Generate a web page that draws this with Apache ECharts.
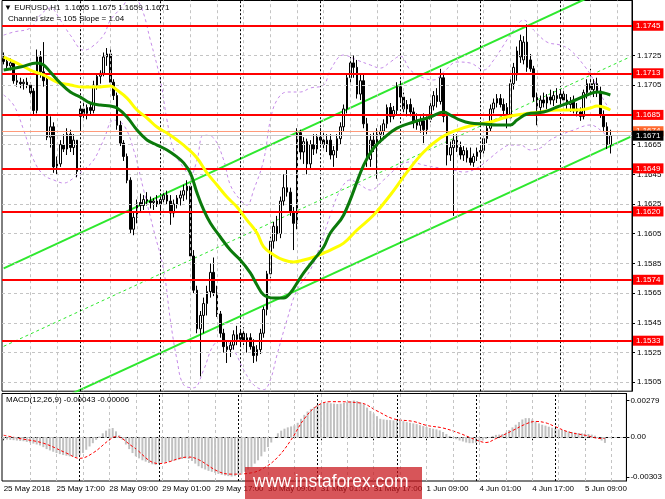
<!DOCTYPE html>
<html><head><meta charset="utf-8">
<script src="https://cdn.jsdelivr.net/npm/echarts@6.0.0/dist/echarts.min.js"></script>
<style>html,body{margin:0;padding:0;background:#fff}#c{width:665px;height:499px}</style>
</head><body><div id="c"></div>
<script>
const symbolName = 'EURUSD,H1';
const nSlots = 189;
const labelStep = 16;
const gridStep = 8;
const xTickLabels = ['25 May 2018','25 May 17:00','28 May 09:00','29 May 01:00','29 May 17:00','30 May 09:00','31 May 01:00','31 May 17:00','1 Jun 09:00','4 Jun 01:00','4 Jun 17:00','5 Jun 09:00'];
const daySeparators = [23,47,71,95,119,143,167];
const priceTicks = [1.1505,1.1525,1.1545,1.1565,1.1585,1.1605,1.1625,1.1645,1.1665,1.1685,1.1705,1.1725];
const redLevels = [1.1745,1.1713,1.1685,1.1649,1.1620,1.1574,1.1533];
const askPrice = 1.1674;
const bidPrice = 1.1671;
const channelText = 'Channel size = 105 Slope = 1.04';
// [open, high, low, close]
const candles = [
[1.1723,1.1727,1.1719,1.1721],[1.1721,1.1724,1.1716,1.1718],[1.1718,1.1723,1.1715,1.1720],[1.1720,1.1721,1.1706,1.1708],
[1.1708,1.1712,1.1704,1.1707],[1.1707,1.1710,1.1703,1.1706],[1.1706,1.1709,1.1702,1.1707],[1.1707,1.1710,1.1703,1.1705],
[1.1705,1.1707,1.1698,1.1700],[1.1701,1.1703,1.1685,1.1688],[1.1688,1.1729,1.1686,1.1724],[1.1724,1.1728,1.1710,1.1714],
[1.1714,1.1734,1.1704,1.1708],[1.1709,1.1711,1.1668,1.1670],[1.1670,1.1684,1.1663,1.1677],[1.1677,1.1680,1.1646,1.1650],
[1.1650,1.1657,1.1645,1.1652],[1.1652,1.1668,1.1650,1.1665],[1.1665,1.1672,1.1660,1.1662],[1.1662,1.1676,1.1658,1.1672],
[1.1672,1.1675,1.1660,1.1663],[1.1663,1.1672,1.1658,1.1668],[1.1668,1.1668,1.1643,1.1647],[1.1684,1.1691,1.1675,1.1689],
[1.1689,1.1693,1.1683,1.1686],[1.1686,1.1692,1.1682,1.1690],[1.1690,1.1693,1.1685,1.1688],[1.1688,1.1708,1.1686,1.1705],
[1.1705,1.1713,1.1702,1.1711],[1.1711,1.1715,1.1706,1.1713],[1.1713,1.1727,1.1711,1.1724],[1.1724,1.1730,1.1718,1.1726],
[1.1726,1.1729,1.1704,1.1707],[1.1707,1.1709,1.1695,1.1698],[1.1698,1.1700,1.1675,1.1678],[1.1678,1.1681,1.1664,1.1666],
[1.1666,1.1668,1.1654,1.1657],[1.1657,1.1659,1.1639,1.1641],[1.1641,1.1643,1.1605,1.1608],[1.1608,1.1620,1.1604,1.1616],
[1.1616,1.1628,1.1612,1.1626],[1.1626,1.1632,1.1620,1.1624],[1.1624,1.1631,1.1621,1.1628],[1.1628,1.1633,1.1624,1.1627],
[1.1627,1.1630,1.1622,1.1626],[1.1626,1.1629,1.1621,1.1627],[1.1627,1.1631,1.1623,1.1625],[1.1625,1.1630,1.1620,1.1628],
[1.1628,1.1634,1.1625,1.1631],[1.1631,1.1634,1.1625,1.1627],[1.1627,1.1631,1.1611,1.1619],[1.1619,1.1628,1.1616,1.1625],
[1.1625,1.1631,1.1622,1.1629],[1.1629,1.1634,1.1624,1.1631],[1.1631,1.1638,1.1627,1.1634],[1.1634,1.1641,1.1628,1.1637],
[1.1637,1.1639,1.1588,1.1590],[1.1590,1.1594,1.1565,1.1567],[1.1567,1.1570,1.1538,1.1541],[1.1541,1.1553,1.1509,1.1550],
[1.1550,1.1562,1.1538,1.1558],[1.1558,1.1570,1.1550,1.1566],[1.1566,1.1585,1.1562,1.1579],[1.1579,1.1589,1.1563,1.1565],
[1.1565,1.1570,1.1549,1.1551],[1.1551,1.1553,1.1535,1.1538],[1.1538,1.1541,1.1525,1.1529],[1.1529,1.1533,1.1518,1.1527],
[1.1527,1.1533,1.1522,1.1530],[1.1530,1.1540,1.1527,1.1537],[1.1537,1.1543,1.1530,1.1534],[1.1534,1.1541,1.1529,1.1538],
[1.1538,1.1542,1.1530,1.1533],[1.1533,1.1538,1.1525,1.1535],[1.1535,1.1538,1.1527,1.1529],[1.1529,1.1534,1.1518,1.1523],
[1.1523,1.1530,1.1519,1.1527],[1.1527,1.1541,1.1524,1.1538],[1.1538,1.1556,1.1535,1.1554],[1.1554,1.1580,1.1550,1.1578],
[1.1578,1.1603,1.1575,1.1600],[1.1600,1.1613,1.1595,1.1610],[1.1610,1.1617,1.1600,1.1605],[1.1605,1.1630,1.1602,1.1627],
[1.1627,1.1645,1.1624,1.1636],[1.1636,1.1648,1.1630,1.1633],[1.1633,1.1636,1.1617,1.1620],[1.1620,1.1623,1.1594,1.1612],
[1.1612,1.1676,1.1608,1.1673],[1.1673,1.1675,1.1655,1.1660],[1.1660,1.1670,1.1652,1.1667],[1.1667,1.1669,1.1645,1.1652],
[1.1652,1.1668,1.1649,1.1665],[1.1665,1.1672,1.1658,1.1662],[1.1662,1.1672,1.1659,1.1670],[1.1670,1.1676,1.1663,1.1668],
[1.1668,1.1674,1.1662,1.1665],[1.1665,1.1672,1.1660,1.1668],[1.1668,1.1672,1.1655,1.1658],[1.1658,1.1664,1.1650,1.1661],
[1.1661,1.1672,1.1656,1.1669],[1.1669,1.1680,1.1665,1.1677],[1.1677,1.1692,1.1674,1.1689],[1.1689,1.1713,1.1686,1.1710],
[1.1710,1.1724,1.1705,1.1720],[1.1720,1.1725,1.1710,1.1717],[1.1717,1.1722,1.1696,1.1699],[1.1699,1.1712,1.1695,1.1708],
[1.1708,1.1713,1.1676,1.1679],[1.1679,1.1683,1.1650,1.1655],[1.1655,1.1672,1.1650,1.1668],[1.1668,1.1673,1.1660,1.1664],
[1.1664,1.1676,1.1642,1.1672],[1.1672,1.1678,1.1666,1.1674],[1.1674,1.1682,1.1668,1.1679],[1.1679,1.1692,1.1676,1.1690],
[1.1690,1.1693,1.1680,1.1684],[1.1684,1.1691,1.1682,1.1688],[1.1688,1.1707,1.1685,1.1704],[1.1704,1.1708,1.1693,1.1697],
[1.1697,1.1700,1.1685,1.1689],[1.1689,1.1695,1.1684,1.1692],[1.1692,1.1696,1.1684,1.1687],[1.1687,1.1690,1.1676,1.1680],
[1.1680,1.1686,1.1675,1.1678],[1.1678,1.1684,1.1673,1.1681],[1.1681,1.1686,1.1666,1.1675],[1.1675,1.1684,1.1672,1.1682],
[1.1682,1.1694,1.1680,1.1691],[1.1691,1.1701,1.1688,1.1698],[1.1698,1.1703,1.1690,1.1694],[1.1694,1.1716,1.1692,1.1710],
[1.1710,1.1713,1.1680,1.1684],[1.1684,1.1686,1.1651,1.1658],[1.1658,1.1667,1.1654,1.1663],[1.1663,1.1672,1.1617,1.1668],
[1.1668,1.1672,1.1660,1.1663],[1.1663,1.1667,1.1655,1.1658],[1.1658,1.1664,1.1654,1.1661],[1.1661,1.1663,1.1653,1.1656],
[1.1656,1.1663,1.1651,1.1653],[1.1653,1.1659,1.1650,1.1657],[1.1657,1.1663,1.1654,1.1660],[1.1660,1.1664,1.1656,1.1661],
[1.1661,1.1671,1.1659,1.1669],[1.1669,1.1678,1.1666,1.1676],[1.1676,1.1692,1.1674,1.1689],[1.1689,1.1696,1.1686,1.1693],
[1.1693,1.1699,1.1690,1.1696],[1.1696,1.1699,1.1690,1.1692],[1.1692,1.1696,1.1685,1.1688],[1.1690,1.1693,1.1676,1.1683],
[1.1683,1.1709,1.1681,1.1706],[1.1706,1.1720,1.1702,1.1717],[1.1712,1.1731,1.1708,1.1728],[1.1724,1.1739,1.1720,1.1735],
[1.1722,1.1738,1.1719,1.1734],[1.1734,1.1746,1.1714,1.1717],[1.1722,1.1726,1.1714,1.1716],[1.1716,1.1718,1.1694,1.1697],
[1.1697,1.1700,1.1678,1.1690],[1.1690,1.1698,1.1686,1.1695],[1.1695,1.1700,1.1690,1.1693],[1.1693,1.1699,1.1689,1.1697],
[1.1697,1.1702,1.1692,1.1695],[1.1695,1.1701,1.1691,1.1698],[1.1698,1.1703,1.1693,1.1696],[1.1696,1.1702,1.1692,1.1699],
[1.1699,1.1703,1.1693,1.1695],[1.1695,1.1699,1.1688,1.1692],[1.1692,1.1697,1.1687,1.1694],[1.1695,1.1698,1.1686,1.1689],
[1.1689,1.1693,1.1684,1.1687],[1.1687,1.1690,1.1681,1.1684],[1.1684,1.1702,1.1682,1.1700],[1.1700,1.1709,1.1696,1.1706],
[1.1706,1.1716,1.1699,1.1702],[1.1702,1.1709,1.1697,1.1706],[1.1706,1.1710,1.1697,1.1700],[1.1701,1.1704,1.1683,1.1685],
[1.1685,1.1688,1.1674,1.1677],[1.1677,1.1680,1.1662,1.1665],[1.1665,1.1675,1.1659,1.1671]
];
// moving averages & bands read as [bar index, price]
const maGreen = [[0,1.17152],[5,1.17172],[10,1.17199],[12,1.17186],[14,1.17138],[17,1.17064],[20,1.17004],[23,1.16970],[26,1.16930],[29,1.16916],[32,1.16910],[34,1.16896],[37,1.16836],[40,1.16748],[43,1.16681],[46,1.16647],[49,1.16614],[52,1.16567],[54,1.16527],[56,1.16459],[58,1.16325],[60,1.16210],[62,1.16122],[65,1.16028],[68,1.15940],[71,1.15873],[74,1.15786],[76,1.15705],[78,1.15638],[81,1.15617],[84,1.15617],[86,1.15651],[88,1.15718],[90,1.15786],[93,1.15873],[96,1.15961],[98,1.16055],[102,1.16176],[108,1.16512],[111,1.16627],[114,1.16694],[118,1.16761],[123,1.16802],[128,1.16836],[132,1.16869],[134,1.16849],[137,1.16815],[140,1.16795],[144,1.16788],[148,1.16782],[152,1.16782],[154,1.16815],[157,1.16856],[162,1.16869],[166,1.16903],[170,1.16936],[175,1.16984],[178,1.17004],[182,1.16984]];
const maYellow = [[0,1.17239],[4,1.17199],[8,1.17152],[12,1.17118],[16,1.17071],[20,1.17051],[24,1.17037],[28,1.17037],[32,1.17044],[34,1.17017],[37,1.16963],[40,1.16883],[43,1.16829],[46,1.16768],[49,1.16728],[52,1.16681],[55,1.16627],[58,1.16560],[61,1.16459],[64,1.16378],[67,1.16297],[70,1.16230],[73,1.16142],[76,1.16055],[78,1.15961],[81,1.15907],[84,1.15873],[87,1.15860],[90,1.15873],[93,1.15893],[96,1.15920],[98,1.15940],[102,1.15987],[106,1.16075],[111,1.16176],[116,1.16311],[121,1.16465],[126,1.16600],[131,1.16694],[136,1.16748],[141,1.16782],[146,1.16802],[151,1.16836],[156,1.16856],[161,1.16869],[166,1.16883],[172,1.16883],[176,1.16896],[178,1.16910],[182,1.16883]];
const bandUpper = [[0,1.17387],[3,1.17408],[8,1.17435],[11,1.17522],[14,1.17569],[17,1.17488],[20,1.17387],[24,1.17286],[26,1.17300],[30,1.17387],[32,1.17488],[36,1.17589],[38,1.17657],[41,1.17589],[44,1.17354],[47,1.17085],[49,1.16815],[51,1.16614],[54,1.16492],[56,1.16445],[58,1.16546],[60,1.16714],[63,1.16694],[66,1.16546],[68,1.16378],[71,1.16277],[73,1.16243],[75,1.16344],[78,1.16546],[80,1.16815],[82,1.16950],[85,1.17004],[89,1.17004],[92,1.17031],[96,1.17051],[98,1.17152],[102,1.17253],[106,1.17219],[110,1.17186],[113,1.17165],[116,1.17206],[119,1.17246],[122,1.17152],[126,1.17098],[129,1.17085],[132,1.17138],[136,1.17206],[140,1.17199],[144,1.17152],[147,1.17219],[150,1.17320],[153,1.17421],[156,1.17488],[159,1.17421],[163,1.17340],[167,1.17320],[170,1.17286],[174,1.17186],[177,1.17085],[180,1.16950],[182,1.16883]];
const bandLower = [[0,1.16984],[3,1.16916],[6,1.16748],[9,1.16546],[12,1.16445],[15,1.16412],[18,1.16391],[21,1.16425],[24,1.16479],[27,1.16546],[30,1.16681],[33,1.16815],[36,1.16782],[39,1.16614],[42,1.16344],[45,1.16075],[48,1.15806],[50,1.15470],[52,1.15201],[54,1.15033],[57,1.15013],[60,1.15134],[63,1.15301],[66,1.15335],[69,1.15268],[72,1.15134],[75,1.15033],[78,1.15000],[80,1.15066],[82,1.15234],[85,1.15470],[88,1.15671],[92,1.15806],[95,1.15974],[98,1.16176],[101,1.16344],[104,1.16412],[107,1.16378],[110,1.16344],[114,1.16412],[119,1.16512],[122,1.16533],[126,1.16512],[131,1.16492],[135,1.16479],[138,1.16465],[142,1.16492],[146,1.16560],[149,1.16614],[152,1.16647],[155,1.16647],[158,1.16614],[161,1.16627],[164,1.16681],[167,1.16714],[171,1.16748],[176,1.16782],[179,1.16748],[182,1.16681]];
// regression channel ends [bar index, price]
const channelUpper = [[0,1.15817],[188,1.17770]];
const channelMiddle = [[0,1.15292],[188,1.17241]];
const channelLower = [[0,1.14762],[188,1.16702]];
// MACD
const macdHist = [
-0.00015,-0.00018,-0.00020,-0.00022,-0.00025,-0.00028,-0.00030,-0.00035,-0.00040,-0.00048,
-0.00055,-0.00062,-0.00075,-0.00090,-0.00100,-0.00110,-0.00120,-0.00128,-0.00135,-0.00140,
-0.00145,-0.00148,-0.00150,-0.00138,-0.00120,-0.00095,-0.00070,-0.00045,-0.00020,0.00005,
0.00030,0.00050,0.00065,0.00070,0.00045,0.00015,-0.00020,-0.00055,-0.00090,-0.00120,
-0.00145,-0.00160,-0.00175,-0.00185,-0.00195,-0.00205,-0.00210,-0.00205,-0.00195,-0.00190,
-0.00185,-0.00180,-0.00175,-0.00170,-0.00165,-0.00160,-0.00165,-0.00180,-0.00200,-0.00220,
-0.00235,-0.00245,-0.00255,-0.00262,-0.00270,-0.00278,-0.00285,-0.00290,-0.00295,-0.00298,
-0.00295,-0.00285,-0.00275,-0.00262,-0.00245,-0.00225,-0.00200,-0.00175,-0.00145,-0.00110,
-0.00075,-0.00040,0.00000,0.00030,0.00050,0.00065,0.00075,0.00082,0.00090,0.00110,
0.00140,0.00170,0.00195,0.00215,0.00230,0.00245,0.00255,0.00260,0.00262,0.00258,
0.00255,0.00252,0.00255,0.00260,0.00268,0.00275,0.00279,0.00275,0.00265,0.00250,
0.00225,0.00200,0.00180,0.00160,0.00140,0.00135,0.00132,0.00130,0.00128,0.00130,
0.00128,0.00122,0.00115,0.00110,0.00105,0.00100,0.00092,0.00085,0.00078,0.00070,
0.00065,0.00060,0.00052,0.00040,0.00025,0.00010,-0.00005,-0.00015,-0.00025,-0.00032,
-0.00040,-0.00045,-0.00045,-0.00042,-0.00035,-0.00025,-0.00012,0.00000,0.00010,0.00018,
0.00020,0.00025,0.00035,0.00055,0.00075,0.00095,0.00115,0.00135,0.00145,0.00145,
0.00135,0.00120,0.00105,0.00095,0.00088,0.00080,0.00072,0.00066,0.00060,0.00055,
0.00050,0.00045,0.00040,0.00035,0.00032,0.00030,0.00028,0.00025,0.00020,0.00012,
0.00002,-0.00025,-0.00043
];
const macdSignal = [[0,0.00015],[5,-0.0001],[12,-0.00045],[19,-0.0012],[23,-0.0016],[27,-0.0012],[32,-0.0002],[34,0.00005],[39,-0.0007],[47,-0.0020],[56,-0.0015],[59,-0.0017],[65,-0.0026],[69,-0.0028],[75,-0.0027],[79,-0.0023],[83,-0.0015],[87,-0.0002],[91,0.0014],[95,0.0024],[99,0.0027],[108,0.0026],[113,0.0020],[118,0.0014],[124,0.0012],[128,0.0009],[133,0.0007],[138,0.0003],[143,-0.0002],[146,-0.0004],[149,-0.0001],[154,0.0005],[158,0.0010],[161,0.0012],[164,0.0011],[167,0.0008],[171,0.0004],[176,0.00015],[181,-0.0001],[182,-0.00006]];
const macdTicks = [0.00279, 0, -0.00303];

const FONT = 'Liberation Sans';
const categories = Array.from({length: nSlots}, (_, i) => String(i));
const last = candles[candles.length - 1];
const headerText = '\u25BC ' + symbolName + '  ' + last.map(v => v.toFixed(4)).join(' ');
const macdText = 'MACD(12,26,9) ' + macdHist[macdHist.length-1].toFixed(5) + ' ' + macdSignal[macdSignal.length-1][1].toFixed(5);

const gridX = [];
for (let i = gridStep; i < nSlots; i += gridStep) gridX.push(i);

const dashGrey = {color: '#c4c4c4', width: 1, type: [3, 3]};
const sepStyle = {color: '#000', width: 1, type: [2, 2]};
function vLines(gi) {
  return [
    {type: 'line', xAxisIndex: gi, yAxisIndex: gi, data: [], silent: true, z: 1,
     markLine: {silent: true, precision: 6, symbol: ['none','none'], label: {show: false}, lineStyle: dashGrey, animation: false,
       data: gridX.map(i => ({xAxis: i}))}},
    {type: 'line', xAxisIndex: gi, yAxisIndex: gi, data: [], silent: true, z: 1,
     markLine: {silent: true, precision: 6, symbol: ['none','none'], label: {show: false}, lineStyle: sepStyle, animation: false,
       data: daySeparators.map(i => ({xAxis: i}))}}
  ];
}
const levelLabel = (txt, bg) => ({show: true, position: 'end', distance: 1, formatter: txt, color: '#fff', backgroundColor: bg,
  fontSize: 8, fontFamily: FONT, padding: [1, 3, 0, 3], lineHeight: 9});
const titleStyle = {fontSize: 8, fontWeight: 'normal', color: '#000', fontFamily: FONT};

const option = {
  animation: false,
  backgroundColor: '#fff',
  textStyle: {fontFamily: FONT},
  title: [
    {text: headerText, left: 4, top: 4, padding: 0, textStyle: titleStyle},
    {text: channelText, left: 8, top: 15, padding: 0, textStyle: titleStyle},
    {text: macdText, left: 6, top: 396, padding: 0, textStyle: titleStyle}
  ],
  grid: [
    {left: 2, right: 33, top: 0.5, height: 390.7, show: true, borderColor: '#000', borderWidth: 1, backgroundColor: 'transparent'},
    {left: 2, right: 33, top: 393.5, height: 87.5, show: true, borderColor: '#000', borderWidth: 1, backgroundColor: 'transparent'}
  ],
  xAxis: [
    {type: 'category', gridIndex: 0, data: categories, boundaryGap: true, show: false},
    {type: 'category', gridIndex: 1, data: categories, boundaryGap: true,
     axisLine: {show: true, lineStyle: {color: '#000'}},
     axisTick: {show: true, length: 3, alignWithLabel: true, interval: (idx) => idx % labelStep === 0, lineStyle: {color: '#000'}},
     axisLabel: {show: true, interval: 0, align: 'left', margin: 4, fontSize: 8, color: '#000', fontFamily: FONT,
       formatter: (v, idx) => (idx % labelStep === 0 && xTickLabels[idx / labelStep]) ? xTickLabels[idx / labelStep] : ''},
     splitLine: {show: false}}
  ],
  yAxis: [
    {type: 'value', gridIndex: 0, position: 'right', min: 1.1499, max: 1.1762, scale: true,
     axisLine: {show: true, lineStyle: {color: '#000'}},
     axisTick: {show: true, length: 3, customValues: priceTicks, lineStyle: {color: '#000'}},
     axisLabel: {show: true, customValues: priceTicks, margin: 5, fontSize: 8, color: '#000', fontFamily: FONT, formatter: v => v.toFixed(4)},
     splitLine: {show: false}},
    {type: 'value', gridIndex: 1, position: 'right', min: -0.00332, max: 0.00332,
     axisLine: {show: true, lineStyle: {color: '#000'}},
     axisTick: {show: true, length: 3, customValues: macdTicks, lineStyle: {color: '#000'}},
     axisLabel: {show: true, customValues: macdTicks, margin: 4, fontSize: 8, color: '#000', fontFamily: FONT,
       formatter: v => Math.abs(v) < 1e-9 ? '0.00' : v.toFixed(5)},
     splitLine: {show: false}}
  ],
  series: [
    ...vLines(0),
    ...vLines(1),
    {type: 'line', xAxisIndex: 0, yAxisIndex: 0, data: [], silent: true, z: 1,
     markLine: {silent: true, precision: 6, symbol: ['none','none'], label: {show: false}, lineStyle: dashGrey, animation: false,
       data: priceTicks.map(v => ({yAxis: v}))}},
    {type: 'line', xAxisIndex: 1, yAxisIndex: 1, data: [], silent: true, z: 1,
     markLine: {silent: true, precision: 6, symbol: ['none','none'], label: {show: false}, lineStyle: dashGrey, animation: false,
       data: [{yAxis: 0}]}},
    // bands
    {type: 'line', name: 'bandUpper', xAxisIndex: 0, yAxisIndex: 0, data: bandUpper, smooth: 0.4, showSymbol: false, silent: true, z: 2,
     lineStyle: {color: '#c58be8', width: 1, type: [3, 3]}},
    {type: 'line', name: 'bandLower', xAxisIndex: 0, yAxisIndex: 0, data: bandLower, smooth: 0.4, showSymbol: false, silent: true, z: 2,
     lineStyle: {color: '#c58be8', width: 1, type: [3, 3]}},
    // channel
    {type: 'line', xAxisIndex: 0, yAxisIndex: 0, data: channelUpper, showSymbol: false, silent: true, z: 3,
     lineStyle: {color: '#2ee82e', width: 2}},
    {type: 'line', xAxisIndex: 0, yAxisIndex: 0, data: channelMiddle, showSymbol: false, silent: true, z: 3,
     lineStyle: {color: '#2ee82e', width: 1, type: [3, 3]}},
    {type: 'line', xAxisIndex: 0, yAxisIndex: 0, data: channelLower, showSymbol: false, silent: true, z: 3,
     lineStyle: {color: '#2ee82e', width: 2}},
    // candles
    {type: 'candlestick', xAxisIndex: 0, yAxisIndex: 0, barWidth: 2.4, z: 4,
     data: candles.map(c => [c[0], c[3], c[2], c[1]]),
     itemStyle: {color: '#ffffff', color0: '#000000', borderColor: '#000000', borderColor0: '#000000', borderWidth: 1}},
    // moving averages
    {type: 'line', name: 'maYellow', xAxisIndex: 0, yAxisIndex: 0, data: maYellow, smooth: 0.4, showSymbol: false, silent: true, z: 5,
     lineStyle: {color: '#ffff00', width: 3}},
    {type: 'line', name: 'maGreen', xAxisIndex: 0, yAxisIndex: 0, data: maGreen, smooth: 0.4, showSymbol: false, silent: true, z: 5,
     lineStyle: {color: '#0b7a0b', width: 3}},
    // levels
    {type: 'line', xAxisIndex: 0, yAxisIndex: 0, data: [], silent: true, z: 6,
     markLine: {silent: true, precision: 6, symbol: ['none','none'], animation: false,
       data: [
         ...redLevels.map(v => ({yAxis: v, lineStyle: {color: '#ff0000', width: 2, type: 'solid'}, label: levelLabel(v.toFixed(4), '#ff0000')})),
         {yAxis: askPrice, lineStyle: {color: '#ff9a7a', width: 1, type: 'solid'}, label: levelLabel(askPrice.toFixed(4), '#ff6a30')},
         {yAxis: bidPrice, lineStyle: {color: '#c8c8c8', width: 1, type: 'solid'}, label: levelLabel(bidPrice.toFixed(4), '#000000')}
       ]}},
    // MACD
    {type: 'bar', xAxisIndex: 1, yAxisIndex: 1, data: macdHist, barWidth: 2, silent: true, z: 3,
     itemStyle: {color: '#c0c0c0'}},
    {type: 'line', xAxisIndex: 1, yAxisIndex: 1, data: macdSignal, smooth: 0.4, showSymbol: false, silent: true, z: 4,
     lineStyle: {color: '#ff0000', width: 1, type: [3, 2]}}
  ],
  graphic: [
    {type: 'rect', left: 245, top: 467, shape: {width: 177, height: 32}, style: {fill: 'rgba(200,20,25,0.72)'}, z: 100, silent: true},
    {type: 'text', left: 253, top: 473, style: {text: 'www.instaforex.com', fill: '#fff', font: '17.5px "Liberation Sans"'}, z: 101, silent: true}
  ]
};
const chart = echarts.init(document.getElementById('c'), null, {renderer: 'canvas'});
chart.setOption(option);
</script></body></html>
